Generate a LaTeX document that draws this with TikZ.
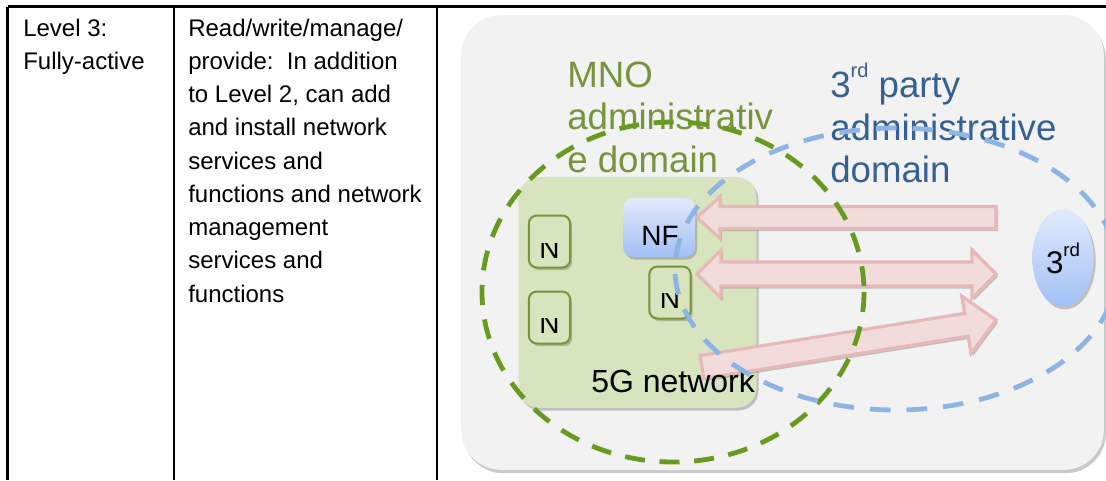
\documentclass[tikz,border=0pt]{standalone}
\usepackage{fontspec}
\setmainfont{Liberation Sans}
\usetikzlibrary{shadows,shapes.geometric}

\definecolor{panelgray}{HTML}{F2F2F2}
\definecolor{netgreen}{HTML}{D7E4BD}
\definecolor{olive}{HTML}{77933C}
\definecolor{dashgreen}{HTML}{679A1E}
\definecolor{dashblue}{HTML}{8DB4E2}
\definecolor{partyblue}{HTML}{376092}
\definecolor{arrowfill}{HTML}{F2DCDB}
\definecolor{arrowline}{HTML}{E6B9B8}
\definecolor{nftop}{HTML}{E0EAFC}
\definecolor{nfbottom}{HTML}{A2C0F4}

\begin{document}
\begin{tikzpicture}[x=0.75pt,y=-0.75pt,
  tabtext/.style={anchor=base west, inner sep=0pt, font=\fontsize{18}{22}\selectfont},
  mnotext/.style={anchor=base west, inner sep=0pt, text=olive, font=\fontsize{27.5}{33}\selectfont},
  partytext/.style={anchor=base west, inner sep=0pt, text=partyblue, font=\fontsize{27.5}{33}\selectfont},
  softshadow/.style={drop shadow={shadow xshift=1.5pt, shadow yshift=-2pt, opacity=0.3, fill=black!70}},
  panel/.style={fill=panelgray, rounded corners=30pt, minimum width=482pt, minimum height=341pt, inner sep=0pt,
                drop shadow={shadow xshift=1.5pt, shadow yshift=-2.5pt, opacity=0.35, fill=black!60}},
  netbox/.style={fill=netgreen, rounded corners=15pt, minimum width=178.5pt, minimum height=173pt, inner sep=0pt, softshadow},
  nfbox/.style={top color=nftop, bottom color=nfbottom, rounded corners=7.5pt, minimum width=54pt, minimum height=44pt, inner sep=0pt, softshadow},
  nbox/.style={draw=olive, line width=1.5pt, fill=netgreen, rounded corners=6pt, minimum width=31pt, minimum height=39pt, inner sep=0pt, softshadow},
  nlabel/.style={anchor=base, inner sep=0pt, font=\fontsize{21}{21}\selectfont},
  partybubble/.style={ellipse, top color=nftop, bottom color=nfbottom, minimum width=46pt, minimum height=73pt, inner sep=0pt, softshadow},
  blockarrow/.style={fill=arrowfill, draw=arrowline, line width=2.4pt, line join=miter, softshadow},
  greendash/.style={draw=dashgreen, line width=3.6pt, dash pattern=on 15pt off 11pt},
  bluedash/.style={draw=dashblue, line width=3.6pt, dash pattern=on 15.5pt off 12pt}]

\useasboundingbox (0,0) rectangle (1106,480);

% table rules
\draw[line width=2.2pt] (7.5,6.7) -- (1106,6.7);
\draw[line width=2.2pt] (7.5,6.7) -- (7.5,480);
\draw[line width=2.2pt] (174,6.7) -- (174,480);
\draw[line width=2.2pt] (437,6.7) -- (437,480);

% first column
\node[tabtext] (lvl-1) at (23,36) {Level 3:};
\node[tabtext] (lvl-2) at (23,69.25) {Fully-active};

% second column
\foreach \t [count=\i] in {Read/write/manage/, {provide:\ \ In addition}, {to Level 2, can add},
    and install network, services and, functions and network, management, services and, functions}
  \node[tabtext] (desc-\i) at (188,{36+33.25*(\i-1)}) {\t};

% background panel and 5G network area
\node[panel] (panel) at (782.5,242.5) {};
\node[netbox] (net) at (637.5,292.5) {};

% network functions
\node[nfbox] (nf) at (659,227.5) {};
\node[nlabel] (nf-text) at (660,245) {NF};

\node[nbox] (nA) at (549.5,241.5) {};
\node[nbox] (nB) at (549.5,317.5) {};
\node[nbox] (nC) at (670,292.5) {};
\begin{scope}
  \clip (528,243) rectangle (571,268);
  \node[nlabel] (nA-text) at (549.5,258) {N};
\end{scope}
\begin{scope}
  \clip (528,318) rectangle (571,344);
  \node[nlabel] (nB-text) at (549.5,333) {N};
\end{scope}
\begin{scope}
  \clip (648,293) rectangle (692,319);
  \node[nlabel] (nC-text) at (670,308) {N};
\end{scope}

% block arrows between the 5G network and the third party
\coordinate (a1tail) at (996,217.5);
\coordinate (a1tip) at (697,217.5);
\draw[blockarrow] (a1tail) ++(0,-11) -- (720,206.5) -- (720,196.5) -- (a1tip)
  -- (720,238.5) -- (720,228.5) -- (996,228.5) -- cycle;

\coordinate (a2left) at (697,274);
\coordinate (a2right) at (996,274);
\draw[blockarrow] (a2left) -- (721,250) -- (721,262) -- (972,262) -- (972,250) -- (a2right)
  -- (972,298) -- (972,286) -- (721,286) -- (721,298) -- cycle;

\coordinate (a3tail) at (702,367);
\coordinate (a3tip) at (996,320);
\draw[blockarrow] (700.2,355.6) -- (964.6,313.4) -- (961.8,296.1) -- (a3tip)
  -- (971.0,353.4) -- (968.2,336.1) -- (703.8,378.4) -- cycle;

\node[anchor=base west, inner sep=0pt, font=\fontsize{24}{24}\selectfont] (net-text) at (591,392) {5G network};

% third party
\node[partybubble] (party) at (1063,258)
  {\fontsize{23.5}{23.5}\selectfont 3\raisebox{0.55em}{\fontsize{14}{14}\selectfont rd}};

% domain captions
\node[mnotext] (mno-1) at (567,87) {MNO};
\node[mnotext] (mno-2) at (567,129.5) {administrativ};
\node[mnotext] (mno-3) at (567,172) {e domain};

\node[partytext] (tp-1) at (830,97) {3\raisebox{0.52em}{\fontsize{15}{15}\selectfont rd} party};
\node[partytext] (tp-2) at (830,140) {administrative};
\node[partytext] (tp-3) at (830,182) {domain};

% administrative domains
\draw[greendash] (673,292) ellipse [x radius=191, y radius=170];
\draw[bluedash] (896,269) ellipse [x radius=221, y radius=141];

\end{tikzpicture}
\end{document}
